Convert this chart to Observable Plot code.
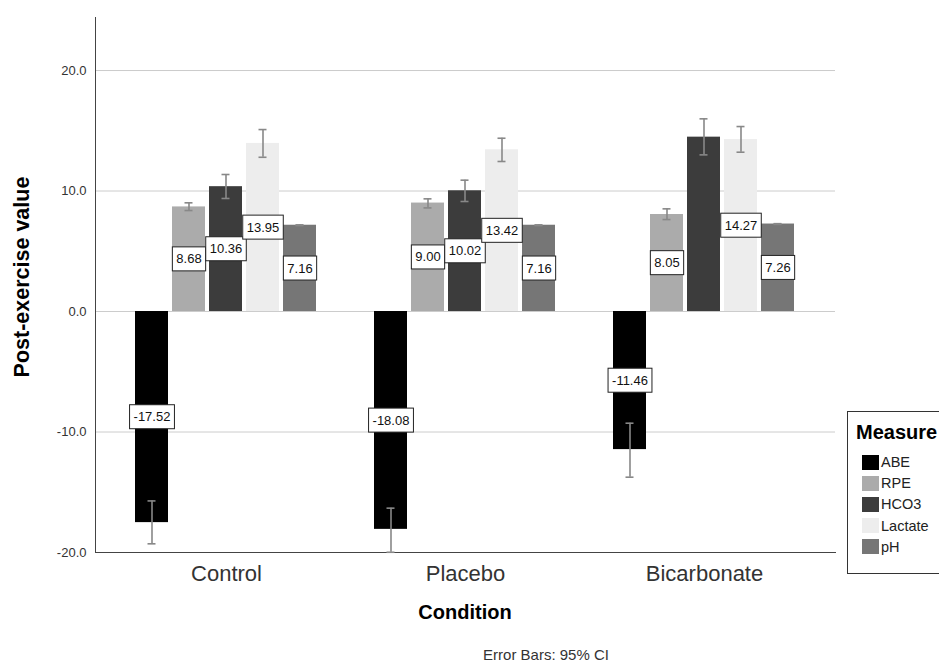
<!DOCTYPE html>
<html><head><meta charset="utf-8">
<script src="https://cdn.jsdelivr.net/npm/d3@7"></script>
<script src="https://cdn.jsdelivr.net/npm/@observablehq/plot@0.6"></script>
<style>
body{margin:0;background:#fff;font-family:"Liberation Sans",Arial,sans-serif;}
#wrap{position:relative;width:939px;height:662px;overflow:hidden;background:#fff;}
#wrap svg{display:block;position:absolute;left:0;top:0;}
.ytitle{position:absolute;width:300px;text-align:center;left:-128px;top:265px;transform:rotate(-90deg);font-weight:bold;font-size:21.5px;line-height:24px;color:#000;}
.xtitle{position:absolute;width:300px;text-align:center;left:315px;top:601px;font-weight:bold;font-size:20px;color:#000;}
.caption{position:absolute;width:300px;text-align:center;left:396px;top:647px;font-size:15px;line-height:15px;color:#333;}
.legend{position:absolute;left:847px;top:411px;width:110px;height:163px;border:1px solid #333;background:#fff;box-sizing:border-box;}
.legend .lt{font-weight:bold;font-size:20px;margin:9px 0 0 8px;color:#000;}
.legend .it{position:absolute;left:14px;font-size:14.5px;color:#222;display:flex;align-items:center;}
.legend .sw{width:17px;height:15px;margin-right:2px;}
</style></head><body><div id="wrap"></div>
<script>
const conditions = ["Control", "Placebo", "Bicarbonate"];
const measures = ["ABE", "RPE", "HCO3", "Lactate", "pH"];
const colors = ["#000000", "#ababab", "#3c3c3c", "#ededed", "#767676"];
const controlValues = [-17.52, 8.68, 10.36, 13.95, 7.16];
const placeboValues = [-18.08, 9.00, 10.02, 13.42, 7.16];
const bicarbonateValues = [-11.46, 8.05, 14.47, 14.27, 7.26];
const controlLow = [-19.28, 8.38, 9.38, 12.80, 7.13];
const controlHigh = [-15.72, 9.02, 11.37, 15.10, 7.19];
const placeboLow = [-19.98, 8.60, 9.13, 12.45, 7.13];
const placeboHigh = [-16.32, 9.35, 10.90, 14.38, 7.19];
const bicarbonateLow = [-13.75, 7.63, 13.00, 13.22, 7.23];
const bicarbonateHigh = [-9.27, 8.52, 15.99, 15.35, 7.29];
const controlLabels = ["-17.52", "8.68", "10.36", "13.95", "7.16"];
const placeboLabels = ["-18.08", "9.00", "10.02", "13.42", "7.16"];
const bicarbonateLabels = ["-11.46", "8.05", "", "14.27", "7.26"];
const yTicks = [-20, -10, 0, 10, 20];
const gridTicks = [-10, 0, 10, 20];
const yDomain = [-20, 24.4];

const vals = [controlValues, placeboValues, bicarbonateValues];
const lows = [controlLow, placeboLow, bicarbonateLow];
const highs = [controlHigh, placeboHigh, bicarbonateHigh];
const labs = [controlLabels, placeboLabels, bicarbonateLabels];
const data = [];
conditions.forEach((c, i) => measures.forEach((m, j) => data.push({
  condition: c, measure: m, value: vals[i][j], low: lows[i][j], high: highs[i][j], label: labs[i][j]
})));
const labelData = data.filter(d => d.label !== "");

const frameOpts = {
  width: 939, height: 600,
  marginLeft: 95, marginRight: 104, marginTop: 17, marginBottom: 48
};
const fontStyle = "'Liberation Sans', Arial, sans-serif";

// Background: gridlines, axis lines and y-axis tick labels (continuous across groups)
const back = Plot.plot({
  ...frameOpts,
  style: {fontFamily: fontStyle, background: "#fff"},
  y: {domain: yDomain, label: null, axis: null},
  marks: [
    Plot.ruleY(gridTicks, {stroke: "#cccccc", strokeWidth: 1}),
    Plot.frame({anchor: "left", stroke: "#444"}),
    Plot.frame({anchor: "bottom", stroke: "#444"}),
    Plot.axisY({ticks: yTicks, tickSize: 0, tickPadding: 9, tickFormat: d => d.toFixed(1), fontSize: 13, fill: "#333", label: null})
  ]
});

// Foreground: grouped bars faceted by condition
const front = Plot.plot({
  ...frameOpts,
  style: {fontFamily: fontStyle, background: "transparent"},
  fx: {domain: conditions, paddingInner: 0.223, paddingOuter: 0.159, label: null},
  x: {domain: measures, paddingInner: 0.105, paddingOuter: 0, axis: null},
  y: {domain: yDomain, label: null, axis: null},
  color: {domain: measures, range: colors},
  marks: [
    Plot.barY(data, {fx: "condition", x: "measure", y: "value", fill: "measure"}),
    Plot.ruleX(data, {fx: "condition", x: "measure", y1: "low", y2: "high", stroke: "#888", strokeWidth: 1.6}),
    Plot.tickY(data, {fx: "condition", x: "measure", y: "low", stroke: "#888", strokeWidth: 1.6, insetLeft: 12.5, insetRight: 12.5}),
    Plot.tickY(data, {fx: "condition", x: "measure", y: "high", stroke: "#888", strokeWidth: 1.6, insetLeft: 12.5, insetRight: 12.5}),
    Plot.text(labelData, {fx: "condition", x: "measure", y: d => d.value / 2, text: "label", fontSize: 13, fill: "#111", className: "vlabel"}),
    Plot.axisFx({anchor: "bottom", tickSize: 0, tickPadding: 13, fontSize: 22, fill: "#333", label: null})
  ]
});

const wrap = document.getElementById("wrap");
wrap.appendChild(back);
wrap.appendChild(front);

const ns = "http://www.w3.org/2000/svg";
front.querySelectorAll("g.vlabel text").forEach(t => {
  const b = t.getBBox();
  const r = document.createElementNS(ns, "rect");
  r.setAttribute("x", b.x - 4);
  r.setAttribute("y", b.y - 4.5);
  r.setAttribute("width", b.width + 8);
  r.setAttribute("height", b.height + 9);
  r.setAttribute("fill", "#fff");
  r.setAttribute("stroke", "#222");
  r.setAttribute("stroke-width", "1");
  const tr = t.getAttribute("transform");
  if (tr) r.setAttribute("transform", tr);
  t.parentNode.insertBefore(r, t);
});

const yt = document.createElement("div"); yt.className = "ytitle"; yt.textContent = "Post-exercise value"; wrap.appendChild(yt);
const xt = document.createElement("div"); xt.className = "xtitle"; xt.textContent = "Condition"; wrap.appendChild(xt);
const cap = document.createElement("div"); cap.className = "caption"; cap.textContent = "Error Bars: 95% CI"; wrap.appendChild(cap);
const lg = document.createElement("div"); lg.className = "legend";
const lt = document.createElement("div"); lt.className = "lt"; lt.textContent = "Measure"; lg.appendChild(lt);
measures.forEach((m, i) => {
  const it = document.createElement("div"); it.className = "it"; it.style.top = (42 + i * 21.2) + "px";
  const sw = document.createElement("span"); sw.className = "sw"; sw.style.background = colors[i];
  const tx = document.createElement("span"); tx.textContent = m;
  it.appendChild(sw); it.appendChild(tx); lg.appendChild(it);
});
wrap.appendChild(lg);
</script></body></html>
